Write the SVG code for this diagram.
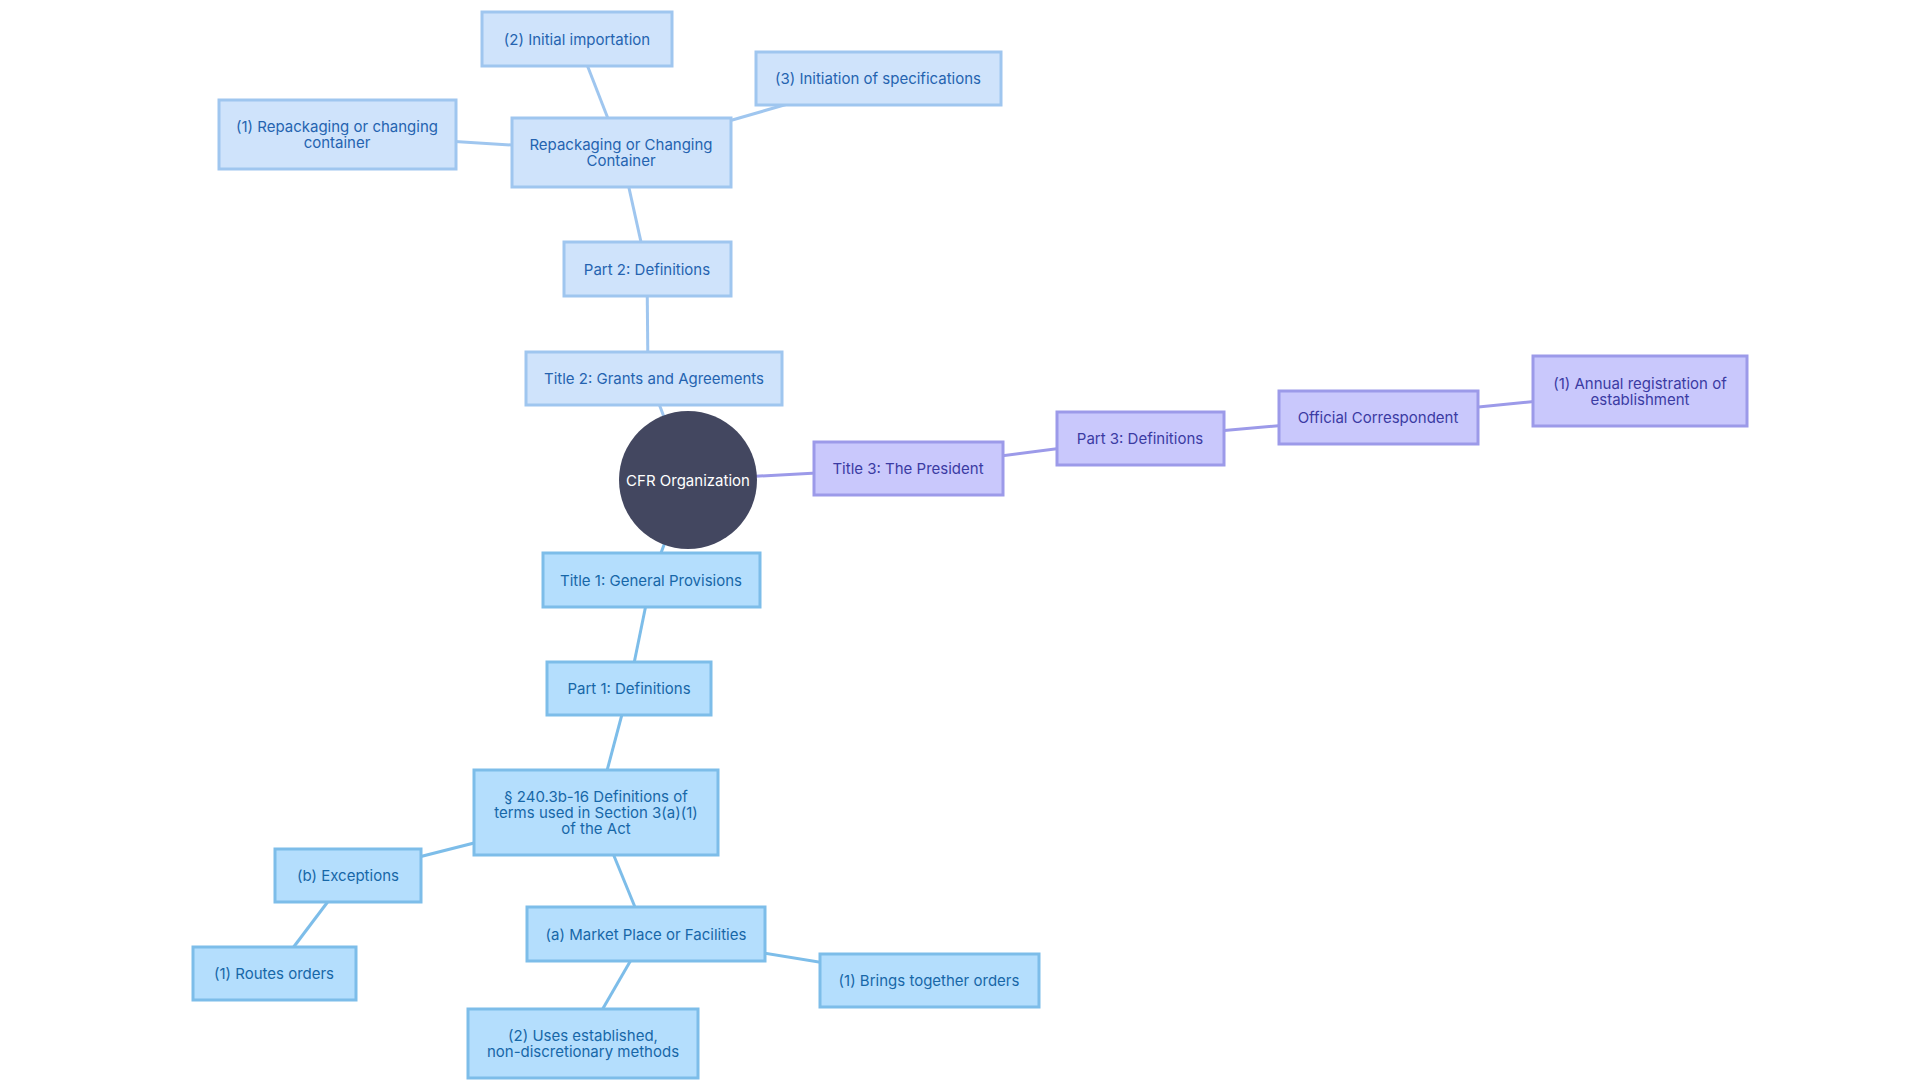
<svg xmlns="http://www.w3.org/2000/svg" width="1920" height="1080" viewBox="0 0 1920 1080">
<style>
text{font-family:Inter,"Noto Sans",sans-serif;font-size:15px;text-anchor:middle;dominant-baseline:central}
.a rect{fill:#cfe3fb;stroke:#9fc6ef;stroke-width:3}.a text{fill:#2563b0}
.b rect{fill:#b4defd;stroke:#7dbde9;stroke-width:3}.b text{fill:#1767a8}
.c rect{fill:#c9c8fc;stroke:#9c9ae9;stroke-width:3}.c text{fill:#3b3ba3}
.ea{stroke:#9fc6ef;stroke-width:3}.eb{stroke:#7dbde9;stroke-width:3}.ec{stroke:#9c9ae9;stroke-width:3}
</style>
<rect width="1920" height="1080" fill="#fff"/>
<g id="connectors">
<line class="ea" x1="688" y1="480" x2="648" y2="375"/>
<line class="ea" x1="648" y1="375" x2="647" y2="269"/>
<line class="ea" x1="647" y1="269" x2="621" y2="152"/>
<line class="ea" x1="621" y1="152" x2="577" y2="39"/>
<line class="ea" x1="621" y1="152" x2="878" y2="78"/>
<line class="ea" x1="621" y1="152" x2="337" y2="134"/>
<line class="ec" x1="688" y1="480" x2="908" y2="468"/>
<line class="ec" x1="908" y1="468" x2="1140" y2="438"/>
<line class="ec" x1="1140" y1="438" x2="1378" y2="417"/>
<line class="ec" x1="1378" y1="417" x2="1640" y2="391"/>
<line class="eb" x1="688" y1="480" x2="651" y2="580"/>
<line class="eb" x1="651" y1="580" x2="629" y2="688"/>
<line class="eb" x1="629" y1="688" x2="596" y2="812"/>
<line class="eb" x1="596" y1="812" x2="348" y2="875"/>
<line class="eb" x1="348" y1="875" x2="274" y2="973"/>
<line class="eb" x1="596" y1="812" x2="646" y2="934"/>
<line class="eb" x1="646" y1="934" x2="929" y2="980"/>
<line class="eb" x1="646" y1="934" x2="583" y2="1043"/>
</g>
<g id="root"><circle cx="688" cy="480" r="69" fill="#434760"/><text x="688" y="480" fill="#fff">CFR Organization</text></g>
<g id="n1" class="a"><rect x="482" y="12" width="190" height="54"/><text x="577" y="39">(2) Initial importation</text></g>
<g id="n2" class="a"><rect x="756" y="52" width="245" height="53"/><text x="878" y="78">(3) Initiation of specifications</text></g>
<g id="n3" class="a"><rect x="219" y="100" width="237" height="69"/><text x="337" y="126">(1) Repackaging or changing</text><text x="337" y="142">container</text></g>
<g id="n4" class="a"><rect x="512" y="118" width="219" height="69"/><text x="621" y="144">Repackaging or Changing</text><text x="621" y="160">Container</text></g>
<g id="n5" class="a"><rect x="564" y="242" width="167" height="54"/><text x="647" y="269">Part 2: Definitions</text></g>
<g id="n6" class="a"><rect x="526" y="352" width="256" height="53"/><text x="654" y="378">Title 2: Grants and Agreements</text></g>
<g id="n7" class="c"><rect x="814" y="442" width="189" height="53"/><text x="908" y="468">Title 3: The President</text></g>
<g id="n8" class="c"><rect x="1057" y="412" width="167" height="53"/><text x="1140" y="438">Part 3: Definitions</text></g>
<g id="n9" class="c"><rect x="1279" y="391" width="199" height="53"/><text x="1378" y="417">Official Correspondent</text></g>
<g id="n10" class="c"><rect x="1533" y="356" width="214" height="70"/><text x="1640" y="383">(1) Annual registration of</text><text x="1640" y="399">establishment</text></g>
<g id="n11" class="b"><rect x="543" y="553" width="217" height="54"/><text x="651" y="580">Title 1: General Provisions</text></g>
<g id="n12" class="b"><rect x="547" y="662" width="164" height="53"/><text x="629" y="688">Part 1: Definitions</text></g>
<g id="n13" class="b"><rect x="474" y="770" width="244" height="85"/><text x="596" y="796">§ 240.3b-16 Definitions of</text><text x="596" y="812">terms used in Section 3(a)(1)</text><text x="596" y="828">of the Act</text></g>
<g id="n14" class="b"><rect x="275" y="849" width="146" height="53"/><text x="348" y="875">(b) Exceptions</text></g>
<g id="n15" class="b"><rect x="193" y="947" width="163" height="53"/><text x="274" y="973">(1) Routes orders</text></g>
<g id="n16" class="b"><rect x="527" y="907" width="238" height="54"/><text x="646" y="934">(a) Market Place or Facilities</text></g>
<g id="n17" class="b"><rect x="820" y="954" width="219" height="53"/><text x="929" y="980">(1) Brings together orders</text></g>
<g id="n18" class="b"><rect x="468" y="1009" width="230" height="69"/><text x="583" y="1035">(2) Uses established,</text><text x="583" y="1051">non-discretionary methods</text></g>
</svg>
